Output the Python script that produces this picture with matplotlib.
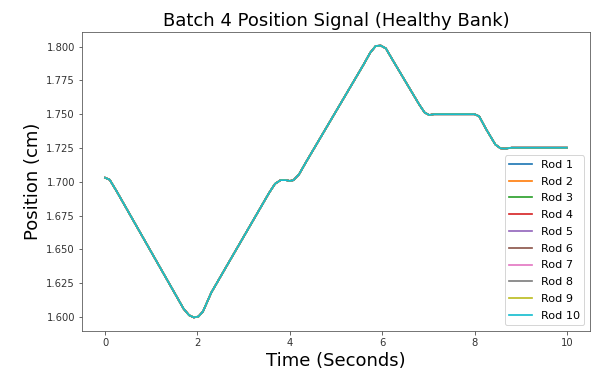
import numpy as np
import matplotlib
matplotlib.use("Agg")
import matplotlib.pyplot as plt

# key points (same curve for every rod)
time_s = [0.00, 0.10, 0.25, 1.70, 1.82, 1.92, 2.02, 2.12, 2.30, 3.55, 3.68, 3.80,
          3.92, 4.00, 4.08, 4.20, 4.35, 5.60, 5.74, 5.86, 5.97, 6.08, 6.25, 6.80,
          6.92, 7.02, 7.12, 8.00, 8.10, 8.25, 8.45, 8.56, 8.66, 8.80, 10.00]
position_cm = [1.7030, 1.7015, 1.6930, 1.6060, 1.6012, 1.5996, 1.6002, 1.6040,
               1.6180, 1.6917, 1.6985, 1.7012, 1.7012, 1.7006, 1.7012, 1.7055,
               1.7145, 1.7869, 1.7955, 1.8005, 1.8008, 1.7987, 1.7888, 1.7573,
               1.7512, 1.7494, 1.7500, 1.7500, 1.7485, 1.7390, 1.7276, 1.7248,
               1.7245, 1.7252, 1.7252]
rods = [f"Rod {i}" for i in range(1, 11)]

fig, ax = plt.subplots(figsize=(592 / 72, 373 / 72), dpi=72)
fig.subplots_adjust(left=0.1385, right=0.9966, bottom=0.1126, top=0.9142)

for rod in rods:
    ax.plot(time_s, position_cm, label=rod, linewidth=1.7)

ax.set_title("Batch 4 Position Signal (Healthy Bank)", fontsize=18)
ax.set_xlabel("Time (Seconds)", fontsize=18)
ax.set_ylabel("Position (cm)", fontsize=18)
ax.set_yticks(np.arange(1.600, 1.8001, 0.025))
ax.yaxis.set_major_formatter(matplotlib.ticker.FormatStrFormatter("%.3f"))
ax.tick_params(labelcolor="#333333", color="#444444")
for s in ax.spines.values():
    s.set_edgecolor("#555555")
ax.legend(loc="lower right", fontsize=11.3, labelspacing=0.6)

fig.savefig("out.png", dpi=72)
